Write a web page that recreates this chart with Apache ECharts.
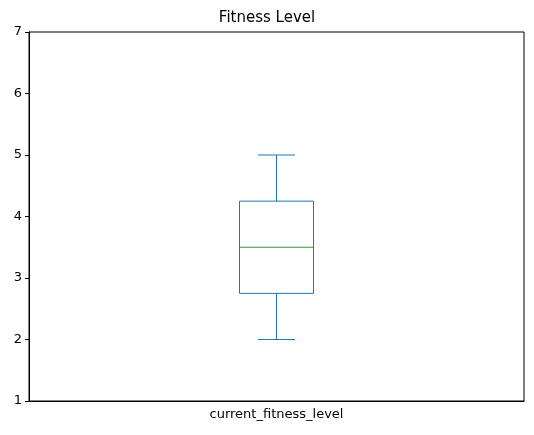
<!DOCTYPE html>
<html><head><meta charset="utf-8">
<script src="https://cdn.jsdelivr.net/npm/echarts@6/dist/echarts.min.js"></script>
<style>html,body{margin:0;padding:0;background:#fff}#c{width:534px;height:435px}</style>
</head><body><div id="c"></div>
<script>
const categories = ['current_fitness_level'];
const boxStats = [[0, 2, 2.75, 3.5, 4.25, 5]]; // idx, min, q1, median, q3, max
const yTicks = [1, 2, 3, 4, 5, 6, 7];
const chart = echarts.init(document.getElementById('c'));
const font = 'DejaVu Sans';
chart.setOption({
  animation: false,
  title: { text: 'Fitness Level', left: 'center', top: 6, textStyle: { fontFamily: font, fontSize: 15, fontWeight: 'normal', color: '#000' } },
  grid: { left: 29, right: 10, top: 32, bottom: 34, show: true, borderColor: '#000', borderWidth: 1 },
  xAxis: { type: 'category', data: categories, boundaryGap: true,
    axisLine: { lineStyle: { color: '#000' } },
    axisTick: { alignWithLabel: true, length: 4, lineStyle: { color: '#000' } },
    axisLabel: { fontFamily: font, fontSize: 13, color: '#000', margin: 7 } },
  yAxis: { type: 'value', min: yTicks[0], max: yTicks[yTicks.length - 1], interval: 1, splitLine: { show: false },
    axisLine: { show: true, lineStyle: { color: '#000' } },
    axisTick: { show: true, length: 4, lineStyle: { color: '#000' } },
    axisLabel: { fontFamily: font, fontSize: 13, color: '#000', margin: 7 } },
  series: [{
    type: 'custom', data: boxStats,
    renderItem: function (params, api) {
      const x = api.value(0);
      const p = k => api.coord([x, api.value(k)]);
      const pmin = p(1), pq1 = p(2), pmed = p(3), pq3 = p(4), pmax = p(5);
      const cx = pmin[0], hw = 37, cw = 18.5;
      const blue = { stroke: '#1f77b4', lineWidth: 1, fill: null };
      return { type: 'group', children: [
        { type: 'rect', shape: { x: cx - hw, y: pq3[1], width: 2 * hw, height: pq1[1] - pq3[1] }, style: blue },
        { type: 'line', shape: { x1: cx, y1: pq1[1], x2: cx, y2: pmin[1] }, style: blue },
        { type: 'line', shape: { x1: cx, y1: pq3[1], x2: cx, y2: pmax[1] }, style: blue },
        { type: 'line', shape: { x1: cx - cw, y1: pmin[1], x2: cx + cw, y2: pmin[1] }, style: blue },
        { type: 'line', shape: { x1: cx - cw, y1: pmax[1], x2: cx + cw, y2: pmax[1] }, style: blue },
        { type: 'line', shape: { x1: cx - hw, y1: pmed[1], x2: cx + hw, y2: pmed[1] }, style: { stroke: '#2ca02c', lineWidth: 1 } }
      ] };
    }
  }]
});
</script></body></html>
